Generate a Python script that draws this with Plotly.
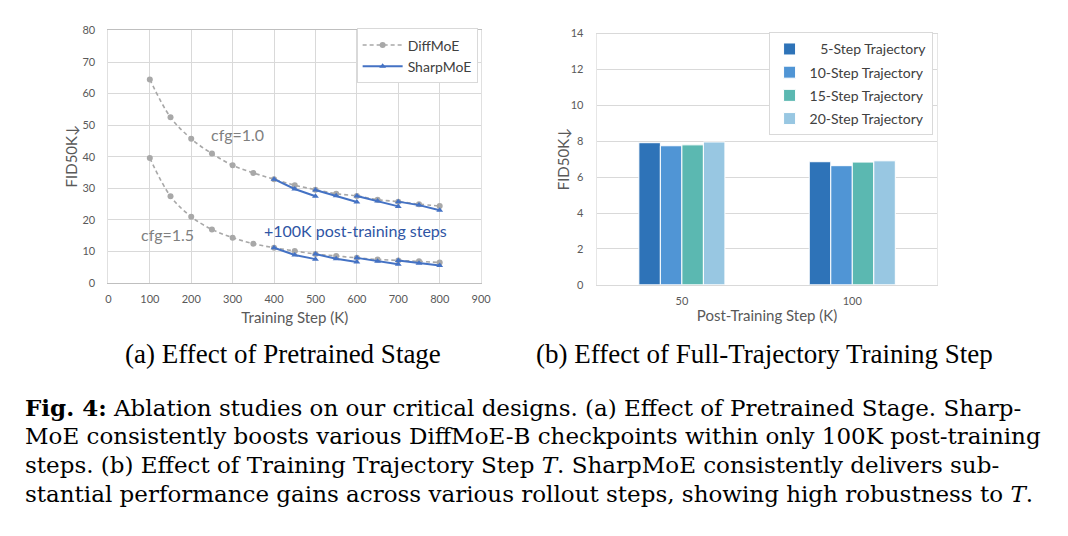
import plotly.graph_objects as go

# ---------------- data: left panel ----------------
steps = [100, 150, 200, 250, 300, 350, 400, 450, 500, 550, 600, 650, 700, 750, 800]
diff_cfg10 = [64.5, 52.5, 45.7, 41.0, 37.3, 34.9, 32.9, 31.0, 29.6, 28.3, 27.6, 26.4, 25.8, 25.0, 24.4]
diff_cfg15 = [39.6, 27.5, 21.0, 17.0, 14.4, 12.5, 11.2, 10.2, 9.2, 8.6, 8.0, 7.5, 7.2, 6.9, 6.5]

# SharpMoE: four post-training segments (start ckpt, +50K, +100K)
sharp_x = [[400, 450, 500], [500, 550, 600], [600, 650, 700], [700, 750, 800]]
sharp_cfg10 = [[32.9, 29.8, 27.5], [29.5, 27.7, 25.7], [27.6, 26.0, 24.3], [25.8, 24.7, 23.1]]
sharp_cfg15 = [[11.2, 8.9, 7.6], [9.2, 7.7, 6.7], [8.0, 6.9, 6.0], [7.2, 6.3, 5.6]]

# ---------------- data: right panel ----------------
post_steps = ["50", "100"]
traj_names = ["\u2002 5-Step Trajectory", "10-Step Trajectory", "15-Step Trajectory", "20-Step Trajectory"]
traj_values = [[7.92, 6.86], [7.75, 6.64], [7.80, 6.84], [7.96, 6.91]]
traj_colors = ["#2E73B8", "#5095D5", "#5BB8B1", "#98C7E2"]

W, H = 1068, 536
def px(x): return x / W
def py(y): return 1 - y / H

fig = go.Figure()

SANS = "Lato, Open Sans, sans-serif"
TICKFONT = dict(family=SANS, size=11, color="#595959")
TITLEFONT = dict(family=SANS, size=15, color="#595959")
GRAY = "#A8A8A8"
BLUE = "#4472C4"

def join_segments(xs, ys):
    X, Y = [], []
    for a, b in zip(xs, ys):
        X += a + [None]
        Y += b + [None]
    return X, Y

# DiffMoE curves
for i, ys in enumerate([diff_cfg10, diff_cfg15]):
    fig.add_trace(go.Scatter(x=steps, y=ys, mode="lines+markers", name="DiffMoE",
                             line=dict(color=GRAY, width=1.6, dash="4px,3px", shape="spline"),
                             marker=dict(symbol="circle", size=6, color=GRAY),
                             xaxis="x", yaxis="y", legendgroup="d", showlegend=(i == 0), legend="legend"))
for i, ys in enumerate([sharp_cfg10, sharp_cfg15]):
    sx, sy = join_segments(sharp_x, ys)
    fig.add_trace(go.Scatter(x=sx, y=sy, mode="lines+markers", name="SharpMoE",
                             line=dict(color=BLUE, width=2),
                             marker=dict(symbol="triangle-up", size=6, color=BLUE),
                             xaxis="x", yaxis="y", legendgroup="s", showlegend=(i == 0), legend="legend"))

for name, vals, col in zip(traj_names, traj_values, traj_colors):
    fig.add_trace(go.Bar(x=post_steps, y=vals, name=name,
                         marker=dict(color=col, line=dict(color="white", width=1)),
                         xaxis="x2", yaxis="y2", legend="legend2", legendgroup=name))

grid = "#D9D9D9"
fig.update_layout(
    width=W, height=H,
    margin=dict(l=0, r=0, t=0, b=0),
    paper_bgcolor="white", plot_bgcolor="white",
    barmode="group", bargap=0.495, bargroupgap=0.0,
    xaxis=dict(domain=[px(106.7), px(484)], range=[0, 900], dtick=100, tick0=0,
               showgrid=True, gridcolor=grid, gridwidth=1, zeroline=False,
               showline=True, linecolor="#BFBFBF", mirror=True, ticks="", ticklabelstandoff=6,
               tickfont=TICKFONT, title=dict(text="Training Step (K)", font=TITLEFONT, standoff=8)),
    yaxis=dict(domain=[py(283), py(24)], range=[0, 80], dtick=10,
               showgrid=True, gridcolor=grid, zeroline=False,
               showline=True, linecolor="#E0E0E0", mirror=True, ticks="", ticklabelstandoff=10,
               tickfont=TICKFONT),
    xaxis2=dict(domain=[px(601), px(946)], type="category",
                showgrid=False, zeroline=False, showline=True, linecolor="#D9D9D9", mirror=True, ticks="",
                ticklabelstandoff=6,
                tickfont=TICKFONT, title=dict(text="Post-Training Step (K)", font=TITLEFONT, standoff=4),
                anchor="y2"),
    yaxis2=dict(domain=[py(284.7), py(27.3)], range=[0, 14], dtick=2,
                showgrid=True, gridcolor=grid, zeroline=False, showline=True, linecolor="#E6E6E6", mirror=True,
                ticks="", tickfont=TICKFONT, anchor="x2", ticklabelstandoff=10),
    legend=dict(x=px(358), y=py(22), xanchor="left", yanchor="top",
                bgcolor="white", bordercolor="#D9D9D9", borderwidth=1,
                font=dict(family=SANS, size=14, color="#404040"),
                tracegroupgap=0, itemwidth=40),
    legend2=dict(x=px(775), y=py(26), xanchor="left", yanchor="top",
                 bgcolor="white", bordercolor="#D9D9D9", borderwidth=1,
                 font=dict(family=SANS, size=14, color="#404040"),
                 tracegroupgap=2, itemwidth=30),
    showlegend=True,
)

ann = []
# y-axis titles
ann.append(dict(x=px(69), y=py(153), xref="paper", yref="paper", text="FID50K\u2193", textangle=-90,
                showarrow=False, xanchor="center", yanchor="middle", font=TITLEFONT))
ann.append(dict(x=px(567), y=py(156), xref="paper", yref="paper", text="FID50K\u2193", textangle=-90,
                showarrow=False, xanchor="center", yanchor="middle", font=TITLEFONT))

ann.append(dict(x=311, y=47, xref="x", yref="y", text="cfg=1.0", showarrow=False,
                font=dict(family=SANS, size=16, color="#7F7F7F")))
ann.append(dict(x=142, y=15.4, xref="x", yref="y", text="cfg=1.5", showarrow=False,
                font=dict(family=SANS, size=16, color="#7F7F7F")))
ann.append(dict(x=597, y=16.7, xref="x", yref="y", text="+100K post-training steps", showarrow=False,
                font=dict(family=SANS, size=16, color="#2F55A4")))

SERIF = "Liberation Serif, Times New Roman, serif"
ann.append(dict(x=px(283), y=py(356), xref="paper", yref="paper", text="(a) Effect of Pretrained Stage",
                xanchor="center", yanchor="middle",
                showarrow=False, font=dict(family=SERIF, size=27, color="black")))
ann.append(dict(x=px(771), y=py(356), xref="paper", yref="paper", text="(b) Effect of Full-Trajectory Training Step",
                xanchor="center", yanchor="middle",
                showarrow=False, font=dict(family=SERIF, size=27, color="black")))

CAP = "DejaVu Serif, serif"
cap_lines = [
    "<b>Fig. 4:</b> Ablation studies on our critical designs. (a) Effect of Pretrained Stage. Sharp-",
    "MoE consistently boosts various DiffMoE-B checkpoints within only 100K post-training",
    "steps. (b) Effect of Training Trajectory Step <i>T</i>. SharpMoE consistently delivers sub-",
    "stantial performance gains across various rollout steps, showing high robustness to <i>T</i>.",
]
cap_y = [410, 440, 469, 499]
for t, yy in zip(cap_lines, cap_y):
    ann.append(dict(x=px(20), y=py(yy), xref="paper", yref="paper", text=t, showarrow=False,
                    xanchor="left", yanchor="middle", font=dict(family=CAP, size=23, color="black")))

fig.update_layout(annotations=ann)
fig.write_html("out.html")
